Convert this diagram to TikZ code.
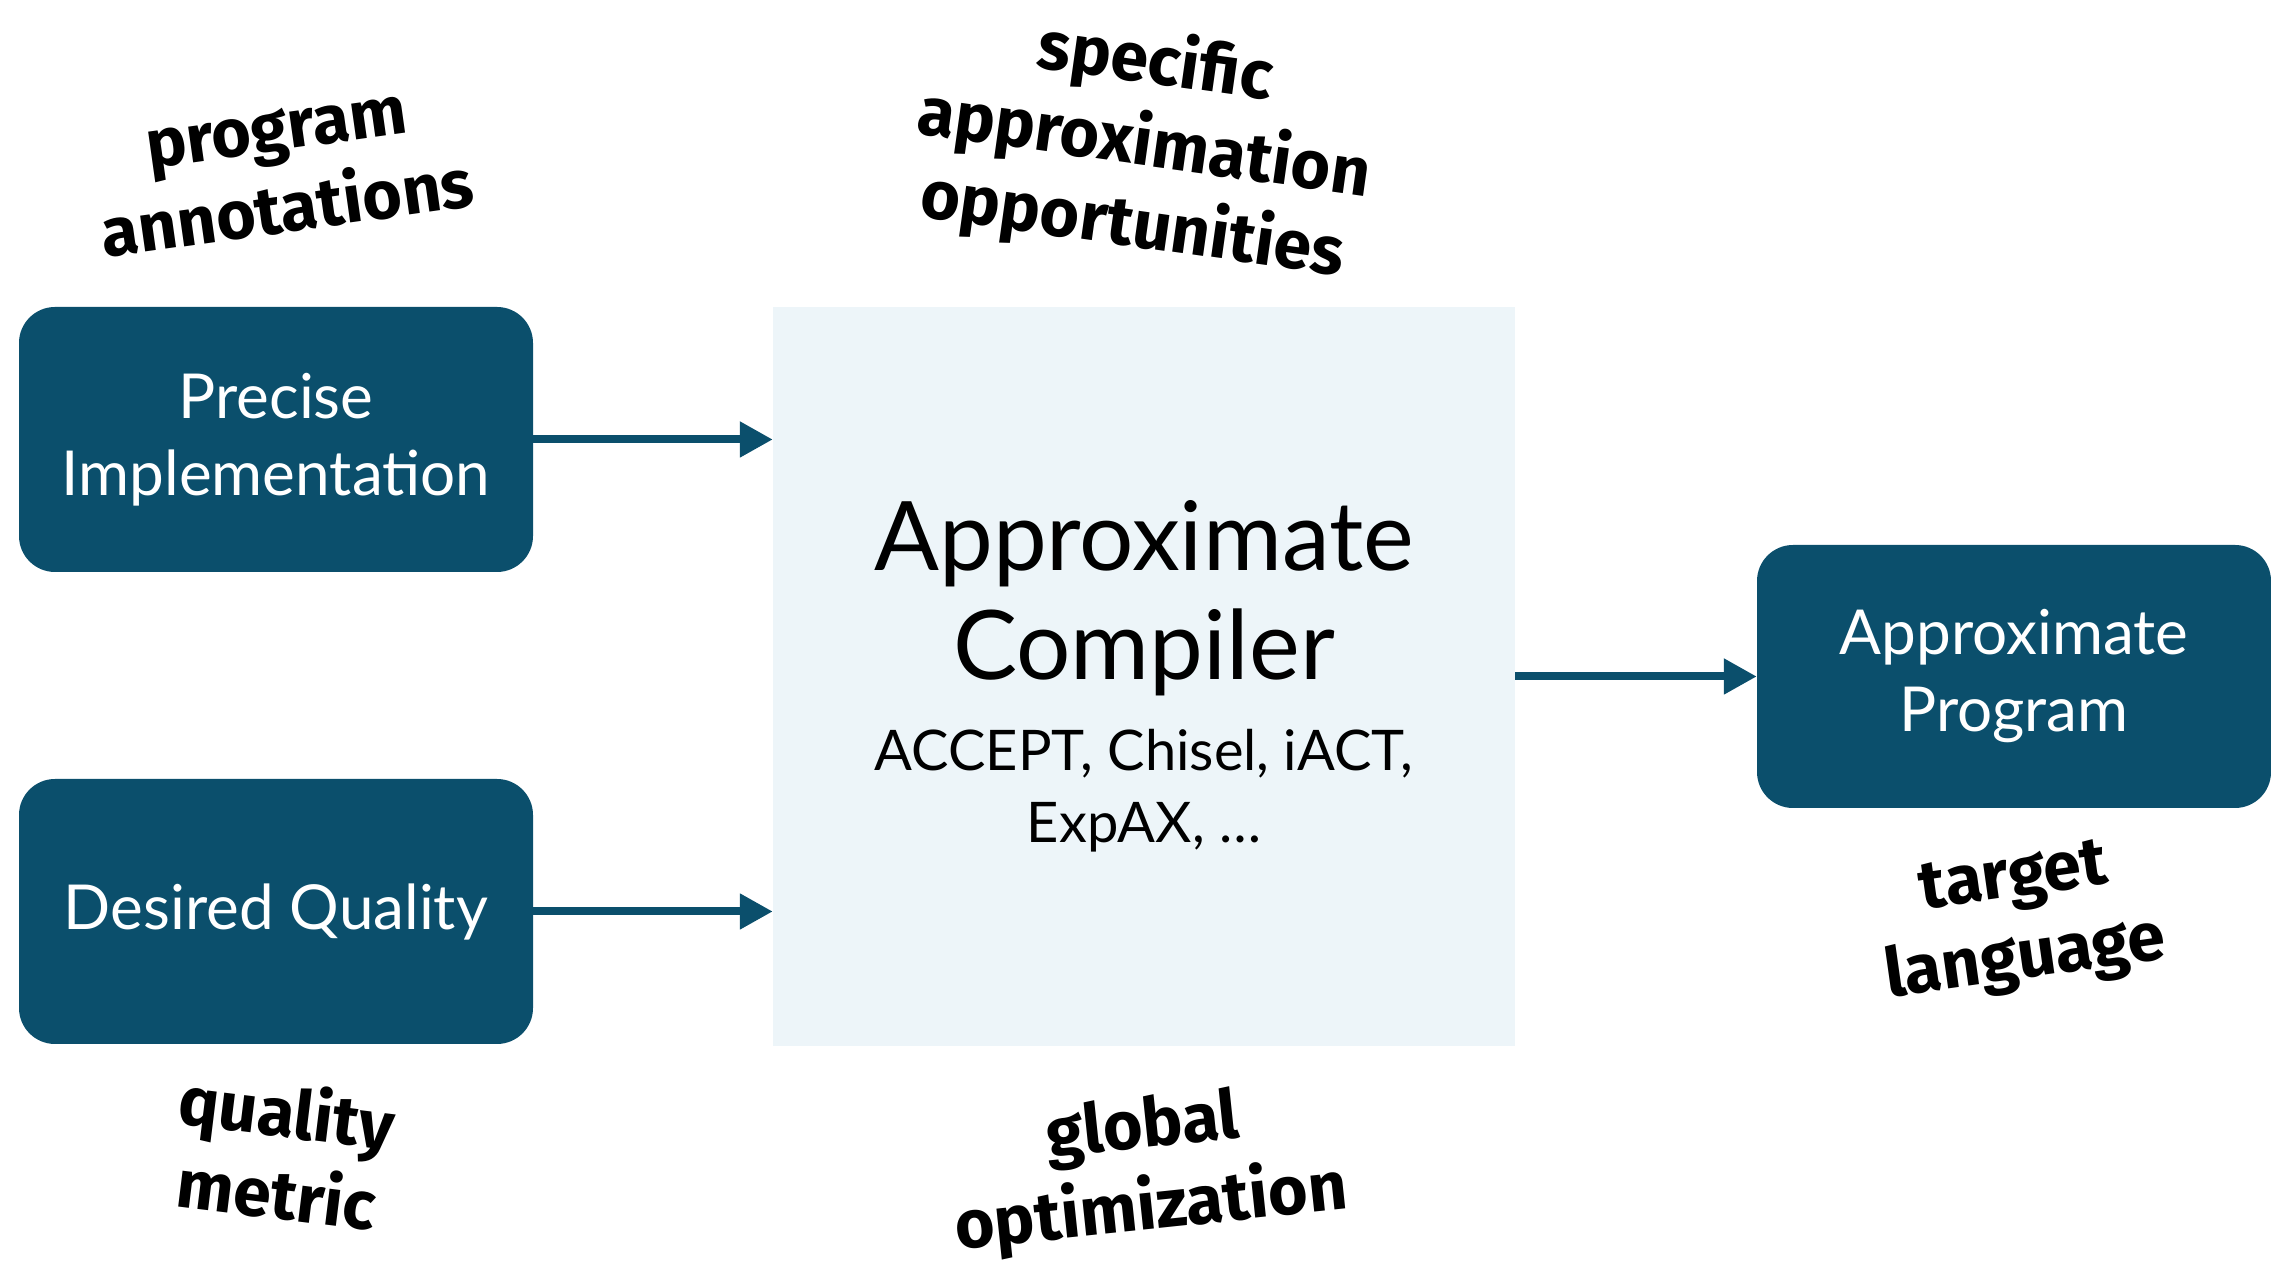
\documentclass[tikz,border=0pt]{standalone}
\usepackage{fontspec}
\setmainfont{Lato}
\newfontfamily\notefont{Fira Sans}
\usetikzlibrary{arrows.meta,positioning}
\definecolor{boxteal}{HTML}{0B4F6C}
\definecolor{paleblue}{HTML}{EDF5F9}
\newcommand{\tightlines}{\lineskiplimit=-100pt\relax}
\newcommand{\bigtext}{\fontsize{96}{72}\selectfont}
\newcommand{\smalltext}{\fontsize{56}{72}\selectfont\tightlines}

\tikzset{
  inbox/.style={fill=boxteal, text=white, rounded corners=36pt, minimum width=514pt,
    minimum height=265pt, align=center, font=\fontsize{62}{77}\selectfont},
  note/.style={font={\notefont\bfseries\fontsize{68}{82}\selectfont\tightlines}, align=center},
  flow/.style={-{Triangle[length=33pt,width=34pt]}, line width=8pt, boxteal}
}

\begin{document}
\begin{tikzpicture}[x=1pt,y=1pt]
  \useasboundingbox (0,0) rectangle (2271,1268);

  % Boxes
  \node[inbox] (prec) at (276,828.5) {Precise\\Implementation};
  \node[inbox] (qual) at (276,356.5) {Desired Quality};
  \node[fill=paleblue, minimum width=742pt, minimum height=739pt, align=center,
    font=\smalltext] (comp) at (1144,591.5)
    {\bigtext Approximate\\[37pt]\bigtext Compiler\\[19pt]\smalltext ACCEPT, Chisel, iACT,\\\smalltext ExpAX, \dots};
  \node[inbox, minimum height=263pt] (prog) at (2014,591.5) {Approximate\\Program};

  % Arrows
  \draw[flow] (prec.east) -- (prec.east -| comp.west);
  \draw[flow] (qual.east) -- (qual.east -| comp.west);
  \draw[flow] (comp.east) -- (prog.west);

  % Notes
  \node[note, rotate=8] (annot) at (282,1097) {program\\annotations};
  \node[note, rotate=-8] (oppor) at (1144,1123) {specific\\approximation\\opportunities};
  \node[note, rotate=-7] (metric) at (282,117) {quality\\metric};
  \node[note, rotate=6] (global) at (1147,98) {global\\optimization};
  \node[note, rotate=8] (target) at (2020,346) {target\\language};
\end{tikzpicture}
\end{document}
